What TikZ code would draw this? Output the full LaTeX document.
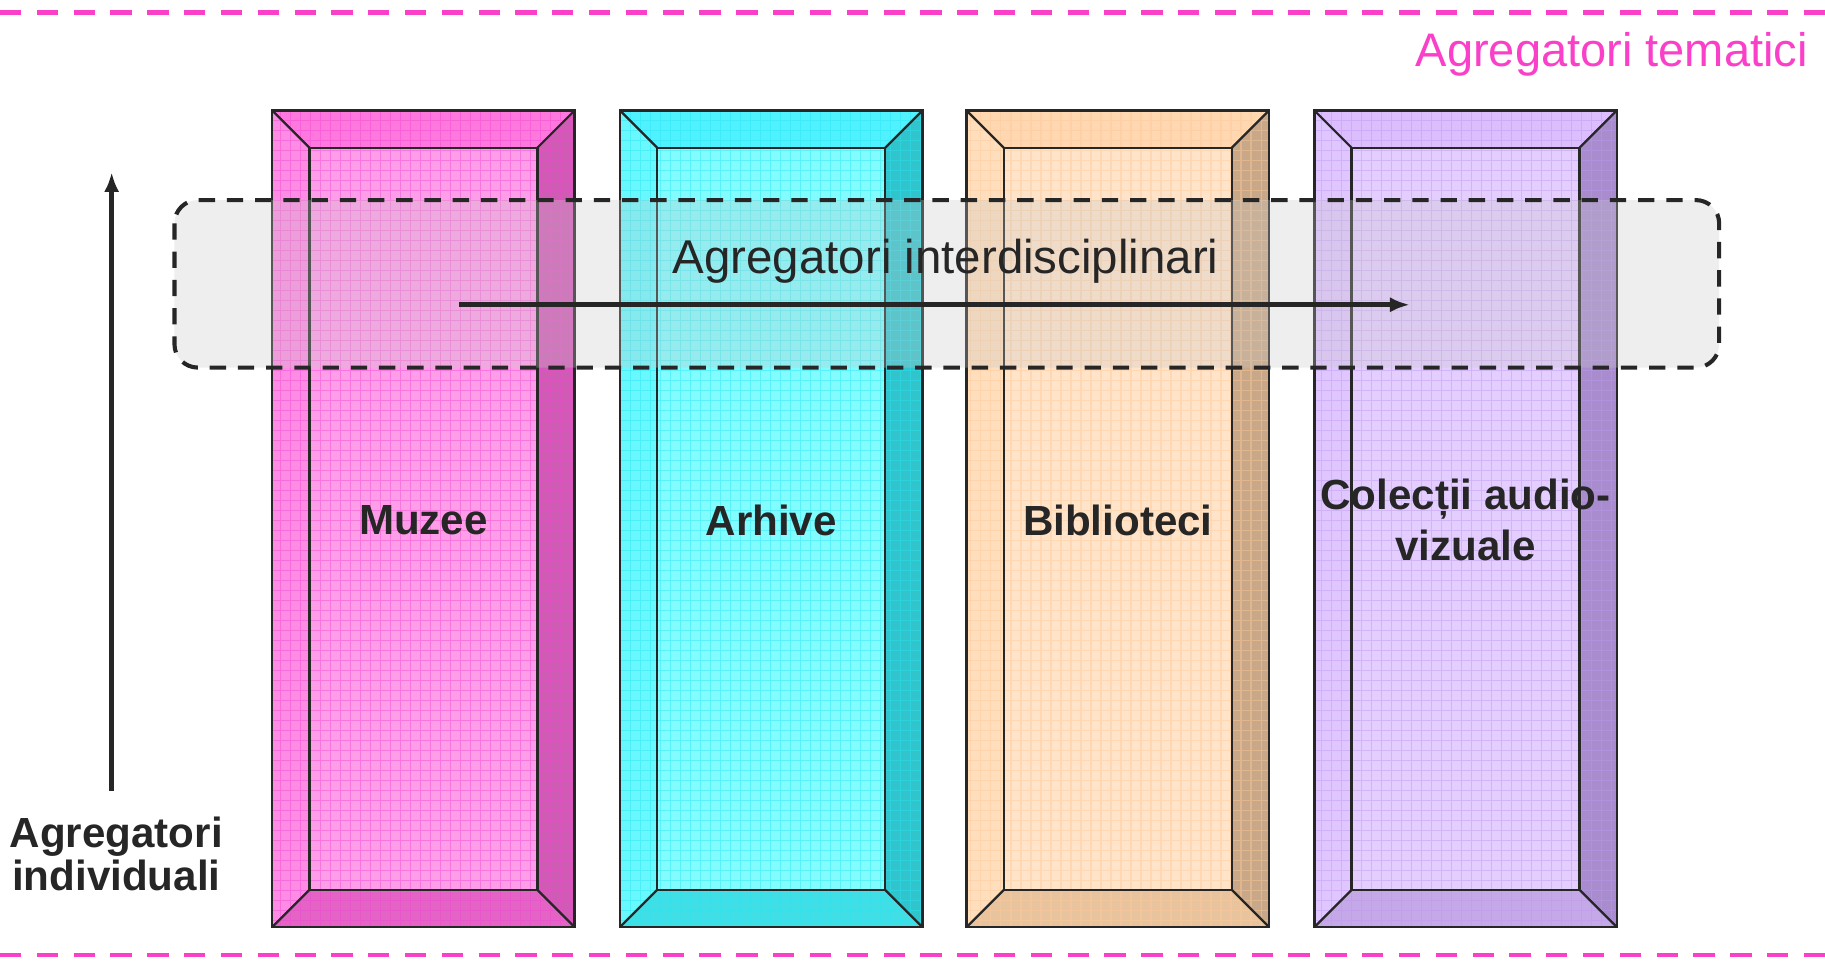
\documentclass[tikz,border=0pt]{standalone}
\usepackage{fontspec}
\setmainfont{Liberation Sans}
\usetikzlibrary{arrows.meta}
\tikzset{>={Latex[length=0.17cm, width=0.13cm]}}

\definecolor{tmpink}{RGB}{250,64,200}
\definecolor{muz-f}{RGB}{255,158,232}
\definecolor{muz-t}{RGB}{255,120,222}
\definecolor{muz-l}{RGB}{255,140,228}
\definecolor{muz-r}{RGB}{206,92,178}
\definecolor{muz-b}{RGB}{228,100,198}
\definecolor{muz-g}{RGB}{240,70,210}
\definecolor{arh-f}{RGB}{130,252,255}
\definecolor{arh-t}{RGB}{80,242,255}
\definecolor{arh-l}{RGB}{105,248,255}
\definecolor{arh-r}{RGB}{50,196,204}
\definecolor{arh-b}{RGB}{66,222,230}
\definecolor{arh-g}{RGB}{40,230,240}
\definecolor{bib-f}{RGB}{255,228,202}
\definecolor{bib-t}{RGB}{255,216,178}
\definecolor{bib-l}{RGB}{255,222,190}
\definecolor{bib-r}{RGB}{200,168,136}
\definecolor{bib-b}{RGB}{232,196,158}
\definecolor{bib-g}{RGB}{255,200,150}
\definecolor{col-f}{RGB}{228,206,255}
\definecolor{col-t}{RGB}{220,190,255}
\definecolor{col-l}{RGB}{224,198,255}
\definecolor{col-r}{RGB}{168,140,206}
\definecolor{col-b}{RGB}{196,168,232}
\definecolor{col-g}{RGB}{190,150,240}

\begin{document}
\begin{tikzpicture}[x=0.01cm, y=-0.01cm,
  boxline/.style={draw=black!85, line width=0.55pt},
  binlabel/.style={font=\fontsize{10.3}{12.4}\selectfont\bfseries, text=black!85, align=center, inner sep=0pt},
  band/.style={draw=black!85, line width=1pt, dash pattern=on 4pt off 2.9pt, fill=black!22, fill opacity=0.3, rounded corners=0.2cm},
  pinkline/.style={draw=tmpink, line width=1.2pt, dash pattern=on 5.2pt off 3.8pt},
  arrowline/.style={draw=black!85, line width=1.2pt}]

\useasboundingbox (0,0) rectangle (1569,832);

\path [pinkline] (0,11) -- (1569,11);
\path [pinkline] (0,821) -- (1569,821);

\node[anchor=base east, text=tmpink, font=\fontsize{11.5}{14}\selectfont, inner sep=0pt] (tematici) at (1555,57) {Agregatori tematici};

% the four pillars
\foreach \x/\n/\t in {234/muz/Muzee, 533/arh/Arhive, 831/bib/Biblioteci, 1130/col/{Colecții audio-\\vizuale}}{
  \fill[fill=\n-f] (\x,95) rectangle ++(260,702);
  \fill[fill=\n-t] (\x,95) -- ++(260,0) -- ++(-32,32) -- ++(-196,0) -- cycle;
  \fill[fill=\n-l] (\x,95) -- ++(32,32) -- ++(0,638) -- ++(-32,32) -- cycle;
  \fill[fill=\n-r] (\x+260,95) -- ++(0,702) -- ++(-32,-32) -- ++(0,-638) -- cycle;
  \fill[fill=\n-b] (\x,797) -- ++(260,0) -- ++(-32,-32) -- ++(-196,0) -- cycle;
  \draw[draw=\n-g, draw opacity=0.45, line width=0.3pt, step=0.086cm] (\x,95) grid (\x+260,797);
  \draw[boxline] (\x,95) rectangle ++(260,702);
  \draw[boxline] (\x+32,127) rectangle ++(196,638);
  \draw[boxline] (\x,95) -- ++(32,32);
  \draw[boxline] (\x+260,95) -- ++(-32,32);
  \draw[boxline] (\x,797) -- ++(32,-32);
  \draw[boxline] (\x+260,797) -- ++(-32,-32);
  \node[binlabel] (\n) at (\x+130,447) {\t};
}

% interdisciplinary band
\path [band] (150,172) rectangle (1478,316);
\node[anchor=base, text=black!85, font=\fontsize{11.6}{14}\selectfont, inner sep=0pt] (inter) at (813,235) {Agregatori interdisciplinari};

\coordinate (hstart) at (395,262);
\coordinate (hend) at (1212,262);
\path (hstart) edge [arrowline, ->] (hend);

\coordinate (vstart) at (96,680);
\coordinate (vend) at (96,148);
\path (vstart) edge [arrowline, ->] (vend);

\node[binlabel, font=\fontsize{10.3}{10.6}\selectfont\bfseries] (indiv) at (100,734) {Agregatori\\individuali};

\end{tikzpicture}
\end{document}
